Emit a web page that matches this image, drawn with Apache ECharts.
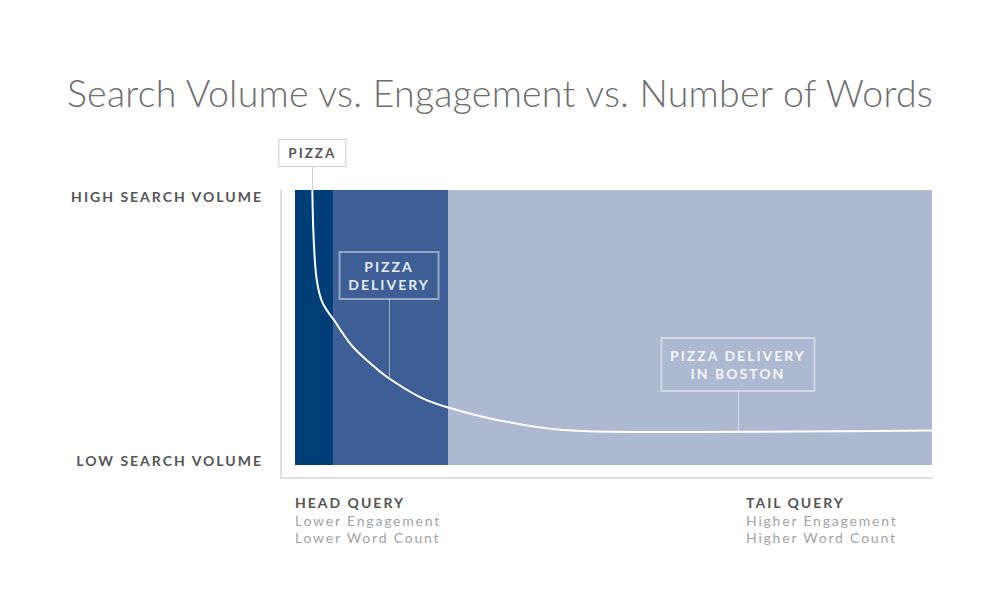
<!DOCTYPE html>
<html>
<head>
<meta charset="utf-8">
<script src="https://cdn.jsdelivr.net/npm/echarts@6/dist/echarts.min.js"></script>
<style>
  html, body { margin: 0; padding: 0; background: #fff; }
  #chart { width: 1000px; height: 600px; }
  /* the picture uses tracked-out type, ECharts has no letterSpacing so do it in css (svg renderer) */
  #chart text { letter-spacing: 1.8px; }
  #chart text[style*="bold"] { letter-spacing: 2px; }
  #chart text[style*="300"] { letter-spacing: 0.25px; }
</style>
</head>
<body>
<div id="chart"></div>
<script>
// curve: search volume (0-100) against position along the query length axis (0-100)
var curveX = [2.72, 2.87, 3.14, 3.41, 3.85, 4.4, 5.2, 6.28, 7.4, 9.11, 11.77, 14.44, 19.62, 24.33, 31.7, 42.07, 52.59, 63.58, 79.28, 100];
var curveY = [100, 85.45, 73.45, 67.3, 62.2, 58.6, 55.6, 52.2, 48.2, 42.9, 37.1, 32, 24.7, 20.7, 16.4, 12.7, 12, 12, 12.2, 12.5];

// background bands: head / middle / tail
var bandStart = [0, 5.97, 24.02];
var bandEnd = [5.97, 24.02, 100];
var bandColors = ["#003e78", "#3e5f95", "#adb8d1"];

// keyword callouts
var annNames = ["PIZZA", "PIZZA\nDELIVERY", "PIZZA DELIVERY\nIN BOSTON"];
var annX = [2.72, 14.76, 69.54];
var annBoxY = [113.45, 68.9, 36.5];
var annLineTop = [108.7, 60.4, 26.9];
var annLineBottom = [100, 31.6, 12.4];

// axis labels
var yLabelValues = [1.8, 97.5];
var yLabels = ["LOW SEARCH VOLUME", "HIGH SEARCH VOLUME"];
var xLabelValues = [0, 70.8];
var xLabelTitles = ["HEAD QUERY", "TAIL QUERY"];
var xLabelLine1 = ["Lower Engagement", "Higher Engagement"];
var xLabelLine2 = ["Lower Word Count", "Higher Word Count"];

var boxStyles = [
  { width: 66, padding: [5, 0], lineHeight: 16, fontSize: 13.5, color: "#555", backgroundColor: "#fff", borderColor: "#cfcfcf" },
  { width: 99, padding: [5.5, 0], lineHeight: 18, fontSize: 14, color: "rgba(255,255,255,0.9)", backgroundColor: "transparent", borderColor: "rgba(255,255,255,0.45)" },
  { width: 153, padding: [8.5, 0], lineHeight: 18, fontSize: 14, color: "rgba(255,255,255,0.9)", backgroundColor: "transparent", borderColor: "rgba(255,255,255,0.45)" }
];
var lineColors = ["#cfcfcf", "rgba(255,255,255,0.5)", "rgba(255,255,255,0.5)"];

var curveData = curveX.map(function (x, i) { return [x, curveY[i]]; });

var chart = echarts.init(document.getElementById("chart"), null, { renderer: "svg" });

var hidden = { show: false };

var option = {
  animation: false,
  backgroundColor: "#fff",
  title: {
    text: "Search Volume vs. Engagement vs. Number of Words",
    left: "center",
    top: 68,
    textStyle: { fontFamily: "Lato", fontWeight: 300, fontSize: 37.5, color: "#6e6e6e" }
  },
  // grid 0 carries the visible axes, grid 1 the data (taller so the top callout fits)
  grid: [
    { left: 281, right: 68, top: 190, bottom: 122 },
    { left: 281, right: 68, top: 135, bottom: 122 }
  ],
  xAxis: [
    {
      type: "value",
      gridIndex: 0,
      min: -2.2,
      max: 100,
      axisLine: { show: true, onZero: false, lineStyle: { color: "#e0e0e0", width: 2 } },
      axisTick: hidden,
      splitLine: hidden,
      axisLabel: {
        customValues: xLabelValues,
        align: "left",
        verticalAlign: "top",
        margin: 14,
        formatter: function (v) {
          var i = xLabelValues.indexOf(v);
          if (i < 0) return "";
          return "{h|" + xLabelTitles[i] + "}\n{s|" + xLabelLine1[i] + "}\n{s|" + xLabelLine2[i] + "}";
        },
        rich: {
          h: { fontFamily: "Lato", fontWeight: "bold", fontSize: 14, color: "#555", lineHeight: 20 },
          s: { fontFamily: "Lato", fontSize: 14, color: "#a3a3a3", lineHeight: 17 }
        }
      }
    },
    {
      type: "value",
      gridIndex: 1,
      min: -2.2,
      max: 100,
      show: false
    }
  ],
  yAxis: [
    {
      type: "value",
      gridIndex: 0,
      min: -4.73,
      max: 100,
      axisLine: { show: true, onZero: false, lineStyle: { color: "#e0e0e0", width: 2 } },
      axisTick: hidden,
      splitLine: hidden,
      axisLabel: {
        customValues: yLabelValues,
        margin: 18,
        fontFamily: "Lato",
        fontWeight: "bold",
        fontSize: 14,
        color: "#555",
        formatter: function (v) {
          var i = yLabelValues.indexOf(v);
          return i < 0 ? "" : yLabels[i];
        }
      }
    },
    {
      type: "value",
      gridIndex: 1,
      min: -4.73,
      max: 120,
      show: false
    }
  ],
  series: [
    {
      type: "line",
      xAxisIndex: 1,
      yAxisIndex: 1,
      data: curveData,
      smooth: 0.4,
      symbol: "none",
      silent: true,
      clip: false,
      z: 3,
      lineStyle: { color: "#fff", width: 2 },
      markArea: {
        silent: true,
        data: bandStart.map(function (s, i) {
          return [
            { xAxis: s, yAxis: 0, itemStyle: { color: bandColors[i] } },
            { xAxis: bandEnd[i], yAxis: 100 }
          ];
        })
      },
      markLine: {
        silent: true,
        symbol: ["none", "none"],
        label: { show: false },
        data: annX.map(function (x, i) {
          return [
            { coord: [x, annLineTop[i]], lineStyle: { color: lineColors[i], width: 1, type: "solid" } },
            { coord: [x, annLineBottom[i]] }
          ];
        })
      },
      markPoint: {
        silent: true,
        symbol: "rect",
        symbolSize: 1,
        itemStyle: { color: "transparent" },
        data: annX.map(function (x, i) {
          var b = boxStyles[i];
          return {
            coord: [x, annBoxY[i]],
            value: annNames[i],
            label: {
              show: true,
              position: "inside",
              formatter: annNames[i],
              fontFamily: "Lato",
              fontWeight: "bold",
              fontSize: b.fontSize,
              lineHeight: b.lineHeight,
              color: b.color,
              width: b.width,
              align: "center",
              padding: b.padding,
              backgroundColor: b.backgroundColor,
              borderColor: b.borderColor,
              borderWidth: 1
            }
          };
        })
      }
    }
  ]
};

chart.setOption(option);
window.addEventListener("resize", function () {
  chart.resize();
});
</script>
</body>
</html>
